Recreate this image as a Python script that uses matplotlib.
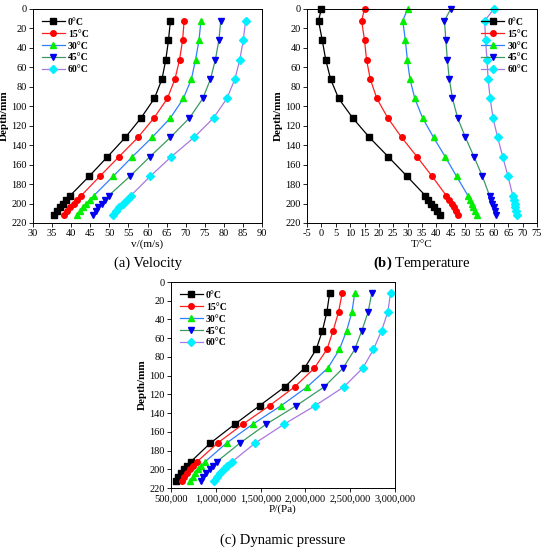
import matplotlib
matplotlib.use("Agg")
import matplotlib.pyplot as plt

plt.rcParams['font.family'] = ['Liberation Serif', 'DejaVu Serif']
plt.rcParams['mathtext.fontset'] = 'custom'
plt.rcParams['mathtext.rm'] = 'Liberation Serif'
plt.rcParams['mathtext.bf'] = 'Liberation Serif:bold'

labels = ['0°C', '15°C', '30°C', '45°C', '60°C']
line_colors = ['black', '#ff2020', '#2f7fff', '#3a9a60', '#a878e0']
marker_colors = ['black', 'red', '#00ee00', '#0000ee', '#00f0ff']
markers = ['s', 'o', '^', 'v', 'D']

depth = [12, 32, 52, 72, 92, 112, 132, 152, 172, 192, 196, 200, 204, 208, 212]
depth_t = [0] + depth

# velocity, m/s
vel_0 = [66, 65.5, 64.8, 63.8, 61.8, 58.3, 54.2, 49.5, 44.7, 39.7, 38.7, 37.8, 37.0, 36.2, 35.5]
vel_15 = [69.6, 69.2, 68.4, 67.2, 65.2, 61.7, 57.5, 52.5, 47.5, 42.6, 41.6, 40.7, 39.8, 39.0, 38.2]
vel_30 = [74, 73.5, 72.6, 71.5, 69.4, 66.0, 61.2, 56.0, 51.0, 45.9, 44.9, 44.0, 43.1, 42.3, 41.5]
vel_45 = [79.2, 78.7, 77.8, 76.5, 74.5, 71.0, 66.0, 60.6, 55.4, 49.8, 48.9, 48.0, 47.1, 46.4, 45.8]
vel_60 = [85.7, 85.1, 84.2, 82.9, 80.8, 77.3, 72.2, 66.2, 60.7, 55.6, 54.5, 53.6, 52.6, 51.8, 51.0]

# temperature, °C
tmp_0 = [0, -1, 0.3, 1.5, 3.2, 6.0, 10.9, 16.7, 23.3, 29.8, 36.2, 37.2, 38.3, 39.3, 40.3, 41.3]
tmp_15 = [15, 14, 15, 15.7, 17, 19.3, 23.1, 27.9, 33.3, 38.5, 43.5, 44.4, 45.3, 46.0, 46.7, 47.5]
tmp_30 = [30, 28.3, 29.2, 29.9, 30.8, 32.5, 35.2, 39.0, 43.1, 47.0, 51.0, 51.6, 52.3, 52.9, 53.4, 54.0]
tmp_45 = [45, 42.8, 43.3, 43.8, 44.5, 45.6, 47.4, 50.1, 53.1, 56.0, 58.5, 59.0, 59.5, 60.0, 60.4, 60.8]
tmp_60 = [60, 56.8, 57.1, 57.6, 58.0, 58.7, 59.7, 61.3, 63.1, 64.9, 66.6, 67.0, 67.2, 67.5, 67.7, 67.9]

# dynamic pressure, Pa
pr_0 = [2270000, 2240000, 2190000, 2120000, 1990000, 1770000, 1490000, 1210000, 940000, 720000, 680000, 650000, 610000, 580000, 560000]
pr_15 = [2410000, 2370000, 2310000, 2240000, 2100000, 1880000, 1600000, 1300000, 1020000, 790000, 750000, 710000, 680000, 650000, 620000]
pr_30 = [2550000, 2520000, 2460000, 2380000, 2250000, 2020000, 1730000, 1410000, 1120000, 880000, 840000, 800000, 770000, 740000, 710000]
pr_45 = [2740000, 2700000, 2630000, 2550000, 2420000, 2210000, 1900000, 1560000, 1270000, 1010000, 970000, 930000, 890000, 860000, 830000]
pr_60 = [2950000, 2920000, 2850000, 2760000, 2640000, 2430000, 2110000, 1760000, 1440000, 1180000, 1130000, 1090000, 1050000, 1010000, 980000]

W, H = 550, 552
fig = plt.figure(figsize=(W / 100, H / 100), dpi=100)


def make_ax(l, t, r, b):
    return fig.add_axes([l / W, 1 - b / H, (r - l) / W, (b - t) / H])


def draw(ax, series, ys, xlabel, xlim, xticks, xticklabels, legend_loc):
    for i, xs in enumerate(series):
        ax.plot(xs, ys, color=line_colors[i], lw=0.9, marker=markers[i],
                ms=4 if markers[i] != 'D' else 3.6, mfc=marker_colors[i],
                mec=marker_colors[i], label=labels[i], clip_on=False)
    ax.set_ylim(220, 0)
    ax.set_yticks(range(0, 221, 20))
    ax.set_xlim(*xlim)
    ax.set_xticks(xticks)
    ax.set_xticklabels(xticklabels)
    ax.tick_params(labelsize=7.5, length=3, width=0.6, pad=1.5)
    for s in ax.spines.values():
        s.set_linewidth(0.7)
    ax.set_ylabel('Depth/mm', fontsize=8, fontweight='bold', labelpad=2)
    ax.set_xlabel(xlabel, fontsize=8, labelpad=1)
    ax.legend(loc=legend_loc, frameon=False, handlelength=2.4,
              labelspacing=0.3, borderaxespad=0.5, handletextpad=0.3,
              prop={'size': 7, 'weight': 'bold'})


ax1 = make_ax(33, 9, 262, 223)
vx = list(range(30, 91, 5))
draw(ax1, [vel_0, vel_15, vel_30, vel_45, vel_60], depth, 'v/(m/s)',
     (30, 90), vx, [str(v) for v in vx], 'upper left')

ax2 = make_ax(307, 9, 537, 223)
tx = list(range(-5, 76, 5))
draw(ax2, [tmp_0, tmp_15, tmp_30, tmp_45, tmp_60], depth_t, 'T/°C',
     (-5, 75), tx, [str(v) for v in tx], 'upper right')

ax3 = make_ax(171, 282, 395, 488)
px = [500000, 1000000, 1500000, 2000000, 2500000, 3000000]
draw(ax3, [pr_0, pr_15, pr_30, pr_45, pr_60], depth, 'P/(Pa)',
     (500000, 3000000), px, [f'{v:,}' for v in px], 'upper left')

cap = dict(ha='center', va='center', fontsize=10.5)
fig.text(148 / W, 1 - 263 / H, '(a) Velocity', **cap)
fig.text(422 / W, 1 - 263 / H, r'$\mathbf{(b)}$ Temperature', **cap)
fig.text(283 / W, 1 - 540 / H, '(c) Dynamic pressure', **cap)

fig.savefig('out.png', dpi=100)
